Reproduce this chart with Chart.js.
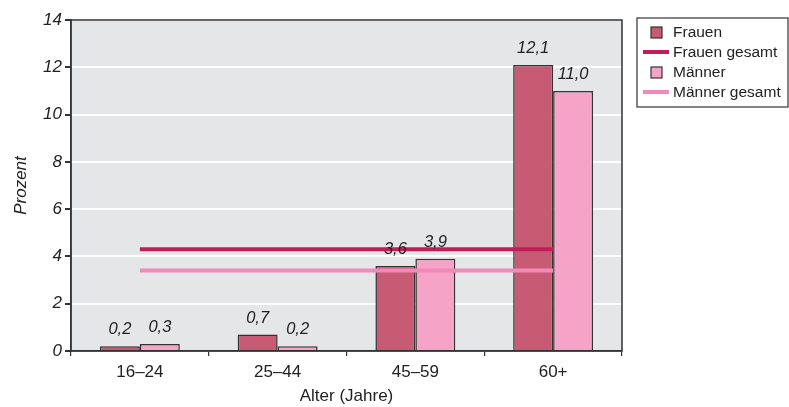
<!DOCTYPE html>
<html lang="de">
<head>
<meta charset="utf-8">
<title>Anteil nach Alter</title>
<script src="https://cdn.jsdelivr.net/npm/chart.js@4.4.1/dist/chart.umd.min.js"></script>
<style>
  html, body { margin: 0; padding: 0; background: #ffffff; }
  #wrap { position: relative; width: 789px; height: 407px; }
</style>
</head>
<body>
<div id="wrap"><canvas id="chart" width="789" height="407"></canvas></div>
<script>
// Altersgruppen und Werte (Prozent)
const categories = ['16–24', '25–44', '45–59', '60+'];
const frauen = [0.2, 0.7, 3.6, 12.1];
const maenner = [0.3, 0.2, 3.9, 11.0];
const frauenGesamt = 4.3;
const maennerGesamt = 3.4;
const yTicks = [0, 2, 4, 6, 8, 10, 12, 14];

const FONT = "'Liberation Sans', Arial, Helvetica, sans-serif";
const TEXT = '#222222';
const FRAME = '#333333';

const fmt = v => v.toFixed(1).replace('.', ',');

// Hintergrund der Zeichenfläche
const plotBackground = {
  id: 'plotBackground',
  beforeDraw(chart) {
    const { ctx, chartArea: a } = chart;
    ctx.save();
    ctx.fillStyle = '#e5e6e8';
    ctx.fillRect(a.left, a.top, a.right - a.left, a.bottom - a.top);
    ctx.restore();
  }
};

// Rahmen um die Zeichenfläche
const plotFrame = {
  id: 'plotFrame',
  afterDatasetsDraw(chart) {
    const { ctx, chartArea: a } = chart;
    ctx.save();
    ctx.strokeStyle = FRAME;
    ctx.lineWidth = 1.5;
    ctx.strokeRect(a.left, a.top, a.right - a.left, a.bottom - a.top);
    ctx.restore();
  }
};

// Zahlenwerte über den Säulen
const barValues = {
  id: 'barValues',
  afterDraw(chart) {
    const { ctx } = chart;
    ctx.save();
    ctx.font = `italic 16.5px ${FONT}`;
    ctx.fillStyle = TEXT;
    ctx.textAlign = 'center';
    ctx.textBaseline = 'middle';
    chart.data.datasets.forEach((ds, i) => {
      if (ds.type !== 'bar') return;
      const meta = chart.getDatasetMeta(i);
      meta.data.forEach((bar, j) => {
        ctx.fillText(fmt(ds.data[j]), bar.x, bar.y - 16.5);
      });
    });
    ctx.restore();
  }
};

// Legende rechts im Kasten
const boxLegend = {
  id: 'boxLegend',
  afterDraw(chart) {
    const { ctx } = chart;
    const left = 637, top = 18, width = 151, height = 89;
    ctx.save();
    ctx.fillStyle = '#ffffff';
    ctx.fillRect(left, top, width, height);
    ctx.strokeStyle = FRAME;
    ctx.lineWidth = 1.2;
    ctx.strokeRect(left, top, width, height);
    ctx.font = `15.5px ${FONT}`;
    ctx.textBaseline = 'middle';
    ctx.textAlign = 'left';
    const order = [0, 2, 1, 3];
    order.forEach((di, row) => {
      const ds = chart.data.datasets[di];
      const cy = top + 14 + row * 20;
      if (ds.type === 'bar') {
        ctx.fillStyle = ds.backgroundColor;
        ctx.fillRect(651, cy - 5, 11, 11);
        ctx.strokeStyle = FRAME;
        ctx.lineWidth = 1.2;
        ctx.strokeRect(651, cy - 5, 11, 11);
      } else {
        ctx.strokeStyle = ds.borderColor;
        ctx.lineWidth = 4;
        ctx.beginPath();
        ctx.moveTo(643, cy);
        ctx.lineTo(669, cy);
        ctx.stroke();
      }
      ctx.fillStyle = TEXT;
      ctx.fillText(ds.label, 673, cy + 1);
    });
    ctx.restore();
  }
};

new Chart(document.getElementById('chart'), {
  data: {
    labels: categories,
    datasets: [
      {
        type: 'bar', label: 'Frauen', data: frauen, order: 2,
        backgroundColor: '#c75b73', borderColor: FRAME, borderWidth: 1.5,
        categoryPercentage: 0.58, barPercentage: 1.0
      },
      {
        type: 'bar', label: 'Männer', data: maenner, order: 2,
        backgroundColor: '#f6a3c8', borderColor: FRAME, borderWidth: 1.5,
        categoryPercentage: 0.58, barPercentage: 1.0
      },
      {
        type: 'line', label: 'Frauen gesamt', data: categories.map(() => frauenGesamt), order: 1,
        borderColor: '#c01e5a', borderWidth: 4, pointRadius: 0, fill: false
      },
      {
        type: 'line', label: 'Männer gesamt', data: categories.map(() => maennerGesamt), order: 1,
        borderColor: '#f28ab9', borderWidth: 4, pointRadius: 0, fill: false
      }
    ]
  },
  options: {
    responsive: false,
    animation: false,
    layout: { padding: { left: 0, top: 20, right: 167, bottom: 0 } },
    plugins: {
      legend: { display: false },
      tooltip: { enabled: false }
    },
    scales: {
      x: {
        type: 'category',
        offset: true,
        grid: { display: true, drawOnChartArea: false, offset: true, tickColor: FRAME, tickLength: 5, lineWidth: 1.2 },
        border: { display: true, color: FRAME, width: 1.5 },
        ticks: { color: TEXT, font: { family: FONT, size: 17 }, padding: 6 },
        title: { display: true, text: 'Alter (Jahre)', color: TEXT, font: { family: FONT, size: 17 }, padding: { top: 1, bottom: 0 } },
        afterFit(scale) { scale.height = 56; }
      },
      y: {
        min: 0, max: 14,
        afterBuildTicks(scale) { scale.ticks = yTicks.map(v => ({ value: v })); },
        grid: { color: '#ffffff', lineWidth: 2, tickColor: FRAME, tickLength: 6, drawTicks: true },
        border: { display: true, color: FRAME, width: 1.5 },
        ticks: { color: TEXT, font: { family: FONT, size: 17, style: 'italic' }, padding: 3 },
        title: { display: true, text: 'Prozent', color: TEXT, font: { family: FONT, size: 17, style: 'italic' }, padding: { top: 11, bottom: 0 } },
        afterFit(scale) { scale.width = 71; }
      }
    }
  },
  plugins: [plotBackground, plotFrame, barValues, boxLegend]
});
</script>
</body>
</html>
